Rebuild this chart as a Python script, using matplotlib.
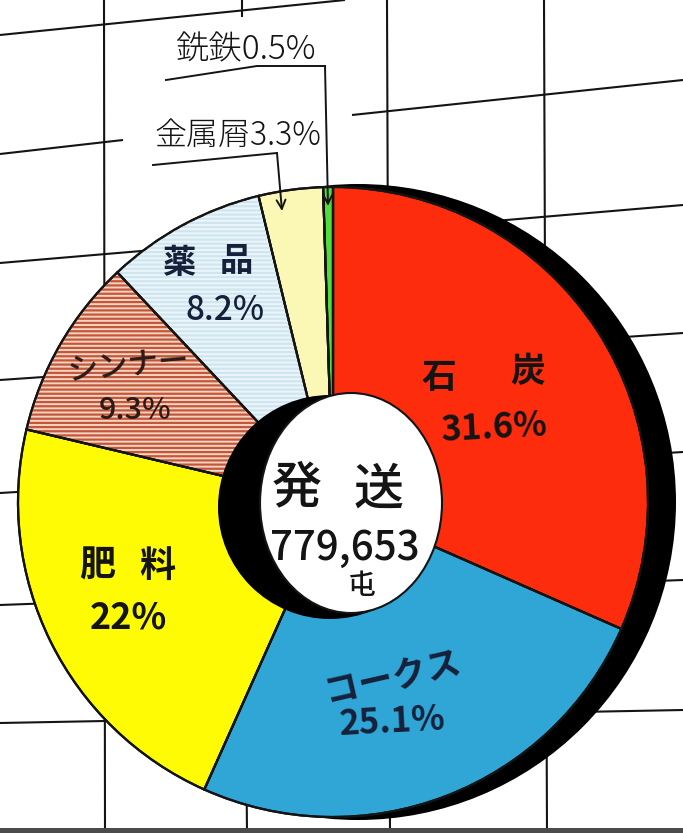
import matplotlib
matplotlib.use("Agg")
import matplotlib.pyplot as plt
from matplotlib.patches import Circle, Ellipse, Rectangle

# ---- data -------------------------------------------------------------
categories = ["石炭", "コークス", "肥料", "シンナー", "薬品", "金属屑", "銑鉄"]
shares = [31.6, 25.1, 22.0, 9.3, 8.2, 3.3, 0.5]
share_labels = ["31.6%", "25.1%", "22%", "9.3%", "8.2%", "3.3%", "0.5%"]
total_title = "発送"
total_value = "779,653"
total_unit = "屯"

# ---- style ------------------------------------------------------------
slice_colors = ["#fd2c0c", "#2fa6d6", "#fefb04", "#f5d5c2", "#ecf6fa", "#fbf8b6", "#52dc3e"]
ink = "#141414"
navy = "#16203a"

W, H = 683, 833
plt.rcParams["font.family"] = ["Noto Sans CJK JP", "DejaVu Sans"]
plt.rcParams["hatch.linewidth"] = 1.6

fig = plt.figure(figsize=(W / 100, H / 100), dpi=100)
fig.patch.set_facecolor("white")
ax = fig.add_axes([0, 0, 1, 1])

center = (333, 502)
radius = 315

# ---- ruled background (hand drawn, slightly skewed) -------------------
grid_segments = [
    [(0, 35), (345, 0)],
    [(0, 154), (123, 140)],
    [(352, 115), (683, 80)],
    [(0, 263), (683, 205)],
    [(0, 380), (683, 333)],
    [(0, 493), (683, 452)],
    [(0, 605), (683, 580)],
    [(0, 723), (683, 710)],
    [(104, 0), (105, 833)],
    [(242, 0), (242, 17)],
    [(246, 720), (247, 833)],
    [(387, 0), (390, 833)],
    [(544, 0), (547, 833)],
]
for (x0, y0), (x1, y1) in grid_segments:
    ax.plot([x0, x1], [y0, y1], color=ink, lw=1.5, zorder=1, solid_capstyle="butt")

# ---- drop shadow behind the disc --------------------------------------
ax.add_patch(Circle((center[0] + 25, center[1]), radius + 3, facecolor="black",
                    edgecolor="none", zorder=2))

# ---- pie (y axis is inverted, so start at -90 and run counterclockwise
#      in data space to go clockwise from 12 o'clock on screen) ---------
wedges, _ = ax.pie(shares, colors=slice_colors, center=center, radius=radius,
                   startangle=-90, counterclock=True, frame=True,
                   wedgeprops=dict(edgecolor=ink, linewidth=1.6))
for w in wedges:
    w.set_zorder(3)

# striped fills for シンナー and 薬品
stripe_colors = [None, None, None, "#c4573a", "#cfe5ef", None, None]
stripes, _ = ax.pie(shares, center=center, radius=radius, startangle=-90,
                    counterclock=True, frame=True,
                    wedgeprops=dict(fill=False, linewidth=0))
for w, c in zip(stripes, stripe_colors):
    if c is None:
        w.set_visible(False)
    else:
        w.set_edgecolor(c)
        w.set_hatch("----")
        w.set_zorder(3.5)
# redraw outlines over the stripes
outlines, _ = ax.pie(shares, center=center, radius=radius, startangle=-90,
                     counterclock=True, frame=True,
                     wedgeprops=dict(fill=False, edgecolor=ink, linewidth=1.6))
for w in outlines:
    w.set_zorder(3.6)

# ---- centre hole ------------------------------------------------------
ax.add_patch(Circle((330, 507), 112, facecolor="black", edgecolor="none", zorder=4))
ax.add_patch(Ellipse((351, 503), 182, 220, facecolor="white", edgecolor=ink,
                     linewidth=1.5, zorder=5))

# ---- slice labels -----------------------------------------------------
def label(x, y, s, size, color=ink, weight="bold", rot=0):
    ax.text(x, y, s, ha="center", va="center", fontsize=size, color=color,
            fontweight=weight, rotation=rot, zorder=6)

label(439, 377, categories[0][0], 25)
label(528, 372, categories[0][1], 25)
label(494, 428, share_labels[0], 25, rot=3)

label(393, 678, categories[1], 25, color=navy, rot=13)
label(392, 722, share_labels[1], 25, color=navy, rot=3)

label(97, 566, categories[2][0], 26)
label(157, 566, categories[2][1], 26)
label(128, 618, share_labels[2], 26)

label(128, 366, categories[3], 22, color="#2a1a18", weight="medium", rot=5)
label(135, 410, share_labels[3], 22, color="#2a1a18", weight="medium")

label(179, 264, categories[4][0], 24, color=navy)
label(236, 262, categories[4][1], 24, color=navy)
label(225, 310, share_labels[4], 24, color=navy, weight="medium")

# ---- centre total -----------------------------------------------------
label(297, 488, total_title[0], 36, weight="medium")
label(379, 490, total_title[1], 36, weight="medium")
label(345, 548, total_value, 29, weight="medium")
label(362, 586, total_unit, 20, weight="medium")

# ---- callouts for the two thin slices --------------------------------
ax.text(245, 50, categories[6] + share_labels[6], ha="center", va="center",
        fontsize=24, color=ink, fontweight="light", zorder=6)
ax.text(238, 136, categories[5] + share_labels[5], ha="center", va="center",
        fontsize=23, color=ink, fontweight="light", zorder=6)

ax.plot([166, 257, 325], [80, 66, 66], color=ink, lw=1.4, zorder=6)
ax.annotate("", xy=(328, 206), xytext=(325, 66),
            arrowprops=dict(arrowstyle="->", lw=1.4, color=ink,
                            mutation_scale=16, shrinkA=0, shrinkB=0), zorder=6)
ax.plot([153, 277], [165, 153], color=ink, lw=1.4, zorder=6)
ax.annotate("", xy=(282, 211), xytext=(277, 153),
            arrowprops=dict(arrowstyle="->", lw=1.4, color=ink,
                            mutation_scale=16, shrinkA=0, shrinkB=0), zorder=6)

# scanned sheet edge
ax.add_patch(Rectangle((0, 828), W, 6, facecolor="#4b4b4b", edgecolor="none", zorder=7))

ax.set_xlim(0, W)
ax.set_ylim(H, 0)
ax.set_aspect("equal", adjustable="box")
ax.axis("off")

fig.savefig("out.png", dpi=100, facecolor="white")
